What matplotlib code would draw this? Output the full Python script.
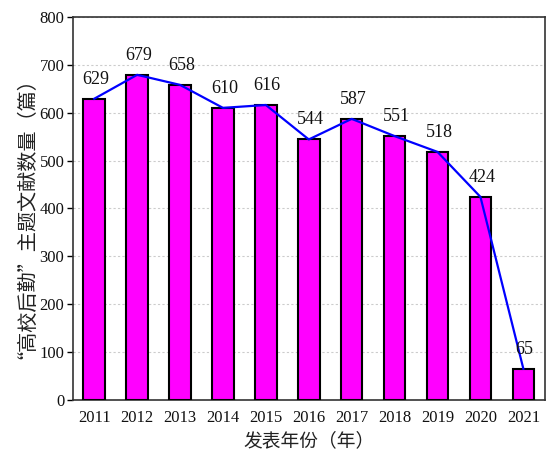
import matplotlib.pyplot as plt

years = ['2011', '2012', '2013', '2014', '2015', '2016', '2017', '2018', '2019', '2020', '2021']
counts = [629, 679, 658, 610, 616, 544, 587, 551, 518, 424, 65]

num_font = 'Liberation Serif'
cjk_font = ['Noto Sans CJK SC', 'DejaVu Sans']

fig = plt.figure(figsize=(5.47, 4.57), dpi=100)
ax = fig.add_axes([0.133, 0.125, 0.863, 0.838])

x = list(range(len(years)))
ax.bar(x, counts, width=0.5, color='#ff00ff', edgecolor='black', linewidth=1.5, zorder=3)
ax.plot(x, counts, color='#0000ff', linewidth=1.6, zorder=4)

for xi, v in zip(x, counts):
    ax.annotate(str(v), (xi, v), xytext=(1, 8), textcoords='offset points',
                ha='center', va='bottom', fontsize=13, family=num_font, color='#111111', zorder=5)

ax.set_xlim(-0.5, 10.5)
ax.set_ylim(0, 800)
ax.set_yticks(range(0, 801, 100))
ax.set_xticks(x)
ax.set_xticklabels(years)
ax.yaxis.grid(True, linestyle=(0, (2, 2)), color='#cccccc', linewidth=0.8, zorder=0)
ax.tick_params(axis='x', length=0, pad=7)
ax.tick_params(axis='y', length=4, width=1, direction='out', pad=2)
for lab in ax.get_xticklabels() + ax.get_yticklabels():
    lab.set_fontfamily(num_font)
    lab.set_fontsize(12)
    lab.set_color('#111111')
for s in ax.spines.values():
    s.set_linewidth(1.2)
    s.set_color('#333333')

ax.set_xlabel('发表年份（年）', family=cjk_font, fontsize=13.5, labelpad=3, color='#222222')
ax.set_ylabel('“高校后勤”主题文献数量（篇）', family=cjk_font, fontsize=14.5, labelpad=9, color='#222222')

fig.savefig('out.png', dpi=100)
